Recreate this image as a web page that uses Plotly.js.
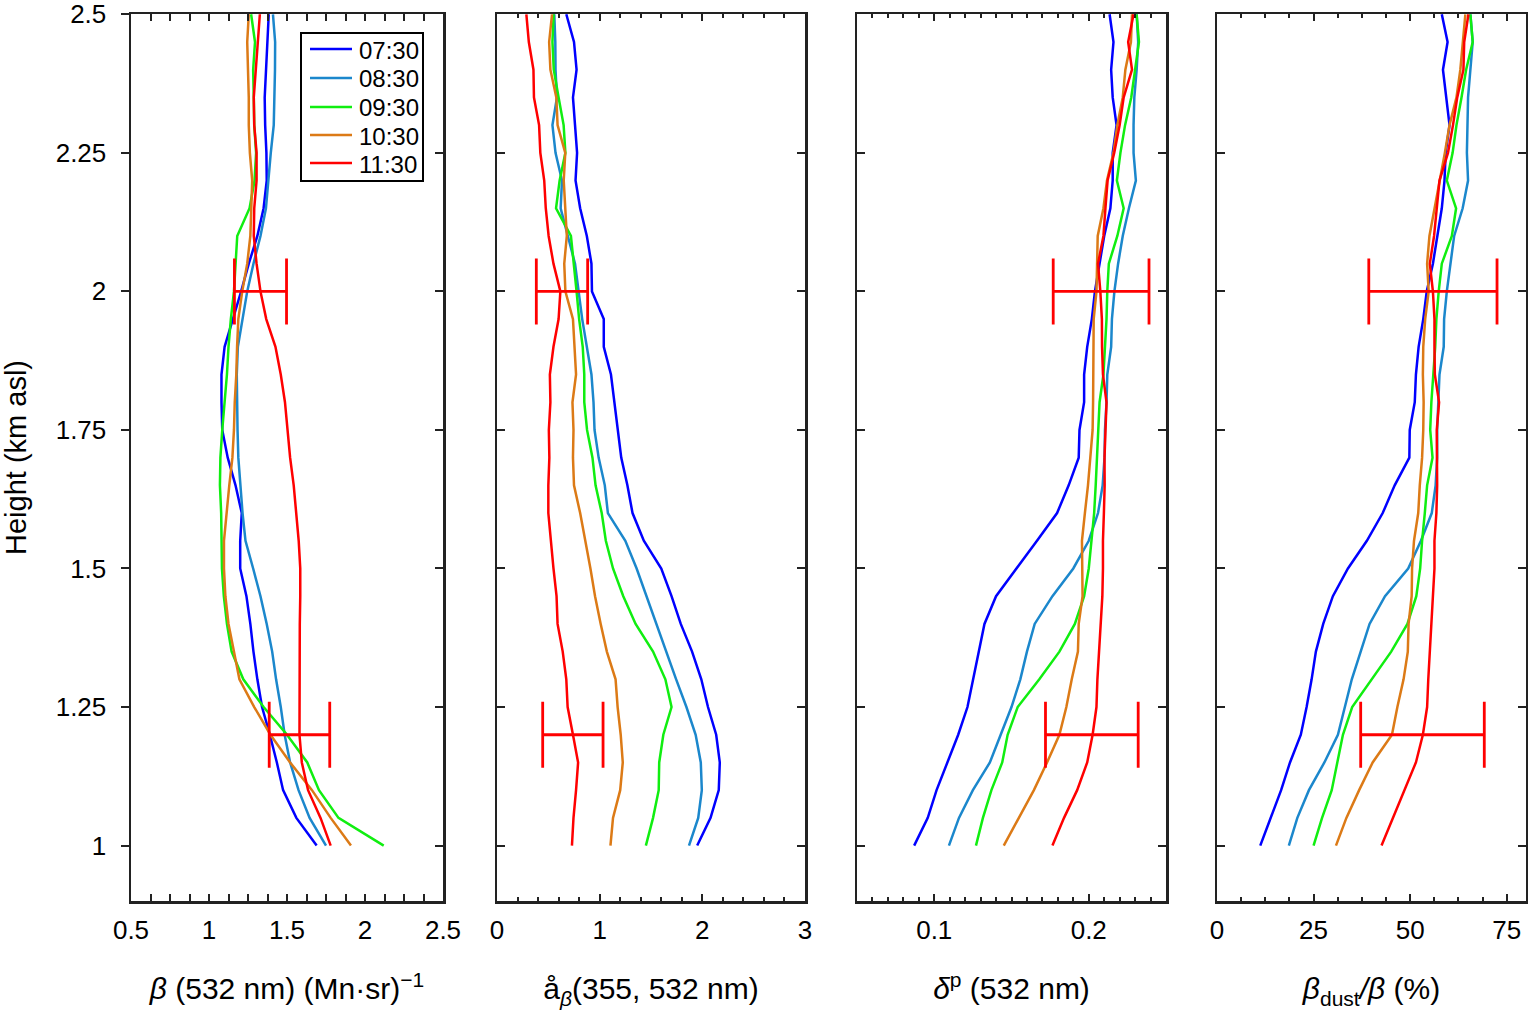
<!DOCTYPE html>
<html>
<head>
<meta charset="utf-8">
<script src="https://cdn.plot.ly/plotly-3.0.1.min.js"></script>
<style>
  html, body { margin: 0; padding: 0; background: #fff; }
  #myDiv { width: 1528px; height: 1025px; }
</style>
</head>
<body>
<div id="myDiv"></div>
<script>
// heights (km asl), common to all profiles
var altura = [1.00, 1.05, 1.10, 1.15, 1.20, 1.25, 1.30, 1.35, 1.40, 1.45, 1.50,
  1.55, 1.60, 1.65, 1.70, 1.75, 1.80, 1.85, 1.90, 1.95, 2.00,
  2.05, 2.10, 2.15, 2.20, 2.25, 2.30, 2.35, 2.40, 2.45, 2.50];

var horarios = ['07:30', '08:30', '09:30', '10:30', '11:30'];
var cores = ['#0000ff', '#1b87cc', '#10ee10', '#dc7a16', '#ff0000'];

// beta 532 nm (Mm sr)^-1
var b0730 = [1.69, 1.56, 1.475, 1.435, 1.39, 1.34, 1.31, 1.285, 1.265, 1.24, 1.20, 1.20, 1.21, 1.17, 1.12, 1.085, 1.08, 1.08, 1.10, 1.155, 1.206, 1.255, 1.31, 1.35, 1.37, 1.368, 1.36, 1.357, 1.365, 1.372, 1.383];
var b0830 = [1.75, 1.645, 1.574, 1.52, 1.485, 1.46, 1.43, 1.405, 1.37, 1.33, 1.283, 1.234, 1.215, 1.20, 1.188, 1.183, 1.18, 1.178, 1.185, 1.215, 1.245, 1.285, 1.33, 1.365, 1.38, 1.396, 1.415, 1.42, 1.423, 1.424, 1.41];
var b0930 = [2.12, 1.83, 1.705, 1.63, 1.50, 1.35, 1.22, 1.145, 1.115, 1.095, 1.083, 1.08, 1.078, 1.07, 1.073, 1.085, 1.10, 1.115, 1.125, 1.14, 1.16, 1.17, 1.181, 1.26, 1.292, 1.302, 1.29, 1.287, 1.283, 1.295, 1.27];
var b1030 = [1.91, 1.78, 1.66, 1.52, 1.394, 1.29, 1.195, 1.16, 1.125, 1.105, 1.096, 1.096, 1.112, 1.13, 1.15, 1.16, 1.165, 1.175, 1.18, 1.188, 1.213, 1.245, 1.265, 1.272, 1.277, 1.262, 1.255, 1.255, 1.25, 1.245, 1.255];
var b1130 = [1.78, 1.715, 1.635, 1.595, 1.58, 1.58, 1.58, 1.58, 1.582, 1.585, 1.585, 1.575, 1.56, 1.543, 1.52, 1.505, 1.487, 1.46, 1.426, 1.367, 1.33, 1.305, 1.287, 1.29, 1.305, 1.305, 1.29, 1.287, 1.30, 1.31, 1.326];

// angstrom exponent (355, 532 nm)
var ae0730 = [1.95, 2.08, 2.16, 2.17, 2.135, 2.055, 1.99, 1.90, 1.79, 1.70, 1.60, 1.43, 1.32, 1.27, 1.21, 1.175, 1.14, 1.11, 1.04, 1.04, 0.925, 0.92, 0.875, 0.81, 0.765, 0.78, 0.76, 0.74, 0.775, 0.75, 0.675];
var ae0830 = [1.87, 1.96, 1.995, 1.985, 1.935, 1.845, 1.745, 1.65, 1.555, 1.46, 1.36, 1.25, 1.08, 1.05, 0.99, 0.95, 0.94, 0.92, 0.875, 0.83, 0.795, 0.76, 0.69, 0.62, 0.633, 0.57, 0.54, 0.584, 0.57, 0.568, 0.558];
var ae0930 = [1.45, 1.52, 1.575, 1.58, 1.62, 1.70, 1.64, 1.52, 1.35, 1.23, 1.13, 1.06, 1.02, 0.96, 0.93, 0.877, 0.85, 0.85, 0.835, 0.80, 0.775, 0.745, 0.72, 0.575, 0.61, 0.666, 0.649, 0.60, 0.553, 0.54, 0.552];
var ae1030 = [1.105, 1.13, 1.20, 1.225, 1.205, 1.175, 1.155, 1.07, 1.01, 0.955, 0.91, 0.86, 0.81, 0.75, 0.74, 0.745, 0.735, 0.77, 0.753, 0.74, 0.666, 0.655, 0.68, 0.665, 0.65, 0.665, 0.59, 0.578, 0.52, 0.508, 0.536];
var ae1130 = [0.73, 0.745, 0.77, 0.79, 0.74, 0.688, 0.675, 0.64, 0.59, 0.58, 0.55, 0.525, 0.50, 0.50, 0.51, 0.505, 0.52, 0.515, 0.55, 0.60, 0.617, 0.55, 0.503, 0.475, 0.46, 0.422, 0.41, 0.36, 0.355, 0.31, 0.286];

// particle depolarization ratio 532 nm
var dp0730 = [0.087, 0.0958, 0.1015, 0.1085, 0.1155, 0.1215, 0.125, 0.1288, 0.1325, 0.140, 0.1535, 0.1665, 0.1795, 0.187, 0.1935, 0.194, 0.197, 0.197, 0.199, 0.202, 0.204, 0.207, 0.210, 0.214, 0.2155, 0.2155, 0.218, 0.2155, 0.2145, 0.216, 0.2135];
var dp0830 = [0.1095, 0.116, 0.125, 0.136, 0.143, 0.150, 0.1557, 0.160, 0.165, 0.1765, 0.190, 0.200, 0.206, 0.209, 0.2102, 0.2105, 0.2115, 0.212, 0.2145, 0.215, 0.2166, 0.219, 0.222, 0.226, 0.2305, 0.229, 0.229, 0.2295, 0.231, 0.232, 0.231];
var dp0930 = [0.127, 0.1315, 0.137, 0.144, 0.1475, 0.154, 0.168, 0.181, 0.191, 0.197, 0.200, 0.2017, 0.2035, 0.2045, 0.2053, 0.206, 0.207, 0.2095, 0.2107, 0.2115, 0.212, 0.213, 0.2185, 0.2226, 0.2182, 0.2205, 0.2235, 0.2275, 0.230, 0.2325, 0.231];
var dp1030 = [0.145, 0.155, 0.1645, 0.173, 0.181, 0.1855, 0.189, 0.193, 0.1935, 0.196, 0.1958, 0.1956, 0.1975, 0.1995, 0.201, 0.2025, 0.2028, 0.203, 0.2032, 0.2032, 0.205, 0.2053, 0.2058, 0.2095, 0.2118, 0.216, 0.2185, 0.222, 0.2237, 0.2273, 0.228];
var dp1130 = [0.1765, 0.184, 0.1925, 0.199, 0.2025, 0.205, 0.2056, 0.2068, 0.208, 0.2088, 0.2092, 0.2092, 0.2098, 0.2103, 0.2102, 0.2107, 0.2115, 0.2092, 0.2086, 0.2085, 0.2075, 0.206, 0.2095, 0.2108, 0.2122, 0.2165, 0.220, 0.2226, 0.228, 0.2255, 0.229];

// dust fraction of backscatter (%)
var fd0730 = [11.2, 14.0, 16.6, 18.9, 21.7, 23.2, 24.5, 25.6, 27.5, 30.0, 33.9, 38.8, 42.9, 46.0, 49.8, 49.9, 51.2, 51.5, 52.2, 53.4, 54.3, 55.9, 57.1, 58.2, 58.9, 59.2, 60.2, 59.3, 58.5, 59.7, 58.2];
var fd0830 = [18.6, 20.8, 23.8, 27.8, 31.3, 33.1, 34.9, 37.2, 39.5, 43.5, 49.5, 52.8, 55.6, 56.6, 57.0, 57.0, 57.3, 57.6, 58.7, 58.8, 59.5, 60.4, 61.4, 63.6, 65.0, 64.7, 64.8, 65.0, 65.6, 66.2, 65.6];
var fd0930 = [25.0, 27.2, 29.7, 31.2, 32.6, 35.0, 40.1, 45.1, 49.3, 51.6, 52.6, 53.1, 53.8, 54.4, 55.8, 55.2, 55.5, 56.0, 56.5, 56.8, 57.4, 58.2, 60.8, 61.9, 59.5, 61.0, 62.0, 63.3, 64.5, 66.2, 65.6];
var fd1030 = [30.8, 33.5, 36.8, 40.3, 45.3, 46.7, 48.3, 49.4, 49.6, 50.4, 50.5, 51.0, 52.1, 52.5, 53.1, 53.4, 53.5, 53.3, 53.4, 53.9, 54.8, 54.4, 55.0, 56.4, 57.6, 59.0, 60.2, 62.0, 63.0, 63.6, 64.3];
var fd1130 = [42.6, 45.5, 48.5, 51.5, 53.3, 54.4, 54.7, 55.1, 55.6, 55.9, 56.3, 56.3, 56.8, 57.0, 57.0, 56.9, 57.5, 56.4, 56.3, 56.3, 55.9, 55.1, 56.2, 56.9, 57.6, 59.8, 61.1, 62.2, 63.8, 64.0, 65.1];

// error bars (red), at two heights
var erroAltura = [2.0, 1.2];
var erroBetaX = [1.33, 1.58];
var erroBeta = [0.167, 0.194];
var erroAeX = [0.633, 0.739];
var erroAe = [0.25, 0.294];
var erroDpX = [0.208, 0.202];
var erroDp = [0.031, 0.030];
var erroFdX = [55.9, 53.2];
var erroFd = [16.6, 16.0];

var paineis = [
  [b0730, b0830, b0930, b1030, b1130],
  [ae0730, ae0830, ae0930, ae1030, ae1130],
  [dp0730, dp0830, dp0930, dp1030, dp1130],
  [fd0730, fd0830, fd0930, fd1030, fd1130]
];
var erros = [
  [erroBetaX, erroBeta],
  [erroAeX, erroAe],
  [erroDpX, erroDp],
  [erroFdX, erroFd]
];

var W = 1528, H = 1025;
var fonte = 'Liberation Sans, Arial, Helvetica, sans-serif';

var data = [];

for (var p = 0; p < paineis.length; p++) {
  var sufixo = p == 0 ? '' : String(p + 1);
  for (var s = 0; s < horarios.length; s++) {
    data.push({
      x: paineis[p][s],
      y: altura,
      xaxis: 'x' + sufixo,
      yaxis: 'y' + sufixo,
      type: 'scatter',
      mode: 'lines',
      name: horarios[s],
      legendgroup: horarios[s],
      showlegend: false,
      line: { color: cores[s], width: 2.5 },
      hoverinfo: 'skip'
    });
  }
  data.push({
    x: erros[p][0],
    y: erroAltura,
    xaxis: 'x' + sufixo,
    yaxis: 'y' + sufixo,
    type: 'scatter',
    mode: 'markers',
    showlegend: false,
    marker: { size: 1, color: 'rgba(0,0,0,0)' },
    error_x: { type: 'data', array: erros[p][1], visible: true, color: '#ff0000', thickness: 2.8, width: 33 },
    hoverinfo: 'skip'
  });
}

// empty trace so the right-hand tick axis of panel 1 is drawn
data.push({ x: [], y: [], xaxis: 'x', yaxis: 'y5', type: 'scatter', showlegend: false });

function eixoX(px0, px1, range, tickvals, minorDtick, titulo) {
  return {
    domain: [px0 / W, px1 / W],
    range: range,
    tickvals: tickvals,
    ticktext: tickvals.map(String),
    ticks: 'inside',
    ticklen: 7,
    tickwidth: 2,
    tickcolor: '#222',
    minor: { dtick: minorDtick, ticks: 'inside', ticklen: 4, tickwidth: 2, tickcolor: '#222' },
    showline: true,
    linecolor: '#222',
    linewidth: 2.5,
    mirror: 'allticks',
    showgrid: false,
    zeroline: false,
    ticklabelstandoff: 4,
    ticklabeloverflow: 'allow',
    tickfont: { family: fonte, size: 26, color: '#000' },
    title: { text: titulo, standoff: 35, font: { family: fonte, size: 30, color: '#000' } }
  };
}

var yDom = [(H - 901) / H, (H - 14) / H];
var yRange = [0.9, 2.5005];
var yTicks = [1, 1.25, 1.5, 1.75, 2, 2.25, 2.5];

function eixoY(ancora, mostrar) {
  return {
    domain: yDom,
    anchor: ancora,
    range: yRange,
    tickvals: yTicks,
    ticktext: yTicks.map(String),
    ticks: 'inside',
    ticklen: 8,
    tickwidth: 2,
    tickcolor: '#222',
    showline: true,
    linecolor: '#222',
    linewidth: 2.5,
    mirror: 'ticks',
    showgrid: false,
    zeroline: false,
    showticklabels: mostrar,
    ticklabeloverflow: 'allow',
    tickfont: { family: fonte, size: 26, color: '#000' }
  };
}

// legend drawn as a box with line samples (paper px -> fractions)
var legX0 = 301, legX1 = 423, legY0 = 33, legY1 = 181;
var legLinhaX = [310, 352], legTextoX = 357;
var legLinhaY = [49, 78, 107, 135, 163];

var shapes = [{
  type: 'rect', xref: 'paper', yref: 'paper',
  x0: legX0 / W, x1: legX1 / W, y0: 1 - legY1 / H, y1: 1 - legY0 / H,
  line: { color: '#000', width: 2 }, fillcolor: '#fff', layer: 'above'
}];
var annotations = [];
for (var k = 0; k < horarios.length; k++) {
  shapes.push({
    type: 'line', xref: 'paper', yref: 'paper',
    x0: legLinhaX[0] / W, x1: legLinhaX[1] / W,
    y0: 1 - legLinhaY[k] / H, y1: 1 - legLinhaY[k] / H,
    line: { color: cores[k], width: 2.5 }, layer: 'above'
  });
  annotations.push({
    xref: 'paper', yref: 'paper', x: legTextoX / W, y: 1 - (legLinhaY[k] + 1) / H,
    xanchor: 'left', yanchor: 'middle', showarrow: false,
    text: horarios[k], font: { family: fonte, size: 24, color: '#000' }
  });
}

var layout = {
  width: W,
  height: H,
  margin: { l: 0, r: 0, t: 0, b: 0 },
  paper_bgcolor: '#fff',
  plot_bgcolor: '#fff',
  showlegend: false,
  shapes: shapes,
  annotations: annotations,
  xaxis: eixoX(131, 443, [0.5, 2.5], [0.5, 1, 1.5, 2, 2.5], 0.125,
    '<i>β</i> (532 nm) (Mn·sr)<sup>−1</sup>'),
  xaxis2: eixoX(497, 805, [0, 3], [0, 1, 2, 3], 0.2,
    'å<sub><i>β</i></sub>(355, 532 nm)'),
  xaxis3: eixoX(857, 1166, [0.05, 0.25], [0.1, 0.2], 0.01,
    '<i>δ</i><sup>p</sup> (532 nm)'),
  xaxis4: eixoX(1217, 1526, [0, 80], [0, 25, 50, 75], 6.25,
    '<i>β</i><sub>dust</sub><i>/β</i> (%)'),
  yaxis: eixoY('x', true),
  yaxis2: eixoY('x2', false),
  yaxis3: eixoY('x3', false),
  yaxis4: eixoY('x4', false),
  yaxis5: {
    overlaying: 'y', side: 'right', anchor: 'x',
    range: yRange, tickvals: yTicks, ticks: 'inside', ticklen: 8, tickwidth: 2, tickcolor: '#222',
    showticklabels: false, showline: false, showgrid: false, zeroline: false
  }
};

// panel 1: left ticks point outward, right ticks inward (yaxis5)
layout.yaxis.ticks = 'outside';
layout.yaxis.mirror = true;
layout.yaxis.ticklabelstandoff = 9;
layout.yaxis.title = { text: 'Height (km asl)', standoff: 34, font: { family: fonte, size: 29, color: '#000' } };

Plotly.newPlot('myDiv', data, layout, { displayModeBar: false, staticPlot: true });
</script>
</body>
</html>
